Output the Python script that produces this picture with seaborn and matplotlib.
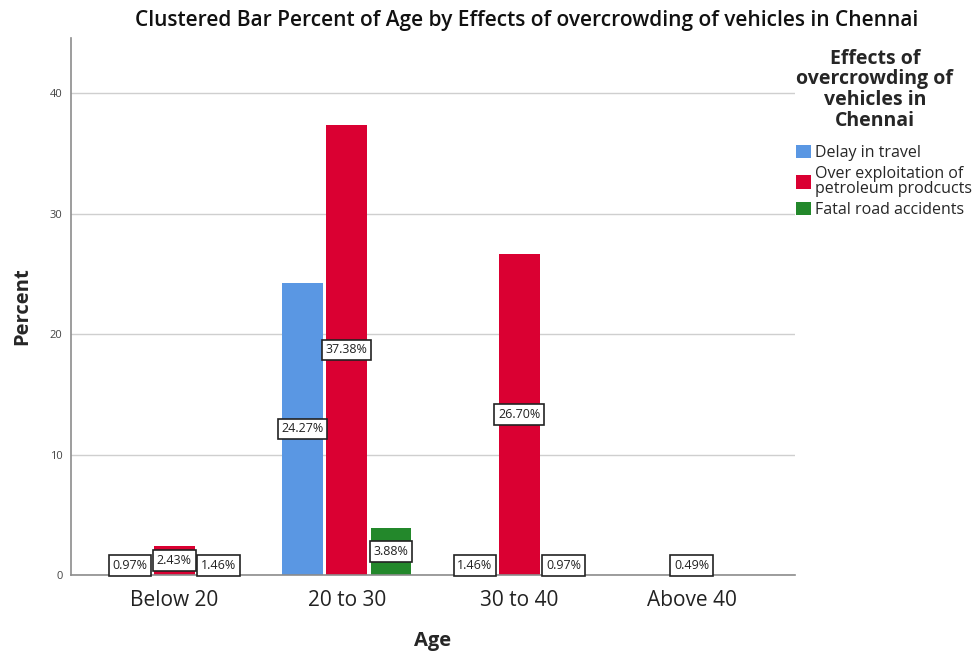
import matplotlib
matplotlib.use("Agg")
import matplotlib.pyplot as plt
import seaborn as sns
import pandas as pd

# Percent of respondents by age group and perceived effect
age_groups = ["Below 20", "20 to 30", "30 to 40", "Above 40"]
effects = ["Delay in travel", "Over exploitation of\npetroleum prodcucts", "Fatal road accidents"]
delay_in_travel = [0.97, 24.27, 1.46, 0.0]
over_exploitation = [2.43, 37.38, 26.70, 0.49]
fatal_accidents = [1.46, 3.88, 0.97, 0.0]
colors = ["#5A97E3", "#DA0032", "#23882B"]

rows = []
for effect, series in zip(effects, [delay_in_travel, over_exploitation, fatal_accidents]):
    for age, val in zip(age_groups, series):
        rows.append({"Age": age, "Effect": effect, "Percent": val})
df = pd.DataFrame(rows)

sns.set_theme(style="white")
plt.rcParams["font.family"] = ["Open Sans", "DejaVu Sans"]

fig = plt.figure(figsize=(9.8, 6.51), dpi=100)
ax = fig.add_axes([0.0724, 0.1167, 0.7389, 0.8249])

sns.barplot(data=df, x="Age", y="Percent", hue="Effect", order=age_groups,
            hue_order=effects, palette=colors, width=0.77, gap=0.08,
            linewidth=0, saturation=1, ax=ax, errorbar=None)

ax.set_xlim(-0.6, 3.6)
ax.set_ylim(0, 44.6)
ax.set_yticks([0, 10, 20, 30, 40])
ax.yaxis.grid(True, color="#cfcfcf", linewidth=1)
ax.set_axisbelow(True)
for side in ["top", "right"]:
    ax.spines[side].set_visible(False)
for side in ["left", "bottom"]:
    ax.spines[side].set_color("#8c8c8c")
    ax.spines[side].set_linewidth(1.2)
ax.tick_params(axis="y", length=0, labelsize=8, labelcolor="#444444", pad=6)
ax.tick_params(axis="x", length=0, labelsize=15, labelcolor="#222222", pad=11)

ax.set_xlabel("Age", fontsize=14.5, fontweight="bold", labelpad=14)
ax.set_ylabel("Percent", fontsize=14.5, fontweight="bold", labelpad=13)

# value labels placed at mid-height of each bar
for container in ax.containers:
    for patch in container.patches:
        h = patch.get_height()
        if h <= 0:
            continue
        xc = patch.get_x() + patch.get_width() / 2
        yc = max(h / 2, 0.8)
        ax.text(xc, yc, f"{h:.2f}%", ha="center", va="center", fontsize=9,
                color="#222222",
                bbox=dict(boxstyle="square,pad=0.3", fc="white", ec="#222222", lw=1.2),
                zorder=5)

fig.text(0.537, 0.968, "Clustered Bar Percent of Age by Effects of overcrowding of vehicles in Chennai",
         ha="center", va="center", fontsize=15, fontweight="semibold", color="#111111")

handles, labels = ax.get_legend_handles_labels()
ax.legend_.remove()
leg = fig.legend(handles, labels, title="Effects of\novercrowding of\nvehicles in\nChennai",
                 loc="upper left", bbox_to_anchor=(0.806, 0.935), frameon=False,
                 fontsize=11.5, title_fontsize=14, handlelength=0.9, handleheight=0.9,
                 handletextpad=0.3, labelspacing=0.3, borderaxespad=0)
leg.get_title().set_fontweight("bold")
leg.get_title().set_multialignment("center")
leg.get_title().set_linespacing(1.05)
for t in leg.get_texts():
    t.set_linespacing(0.95)
leg._legend_box.align = "left"
leg._legend_box.sep = 10

fig.savefig("out.png", dpi=100)
